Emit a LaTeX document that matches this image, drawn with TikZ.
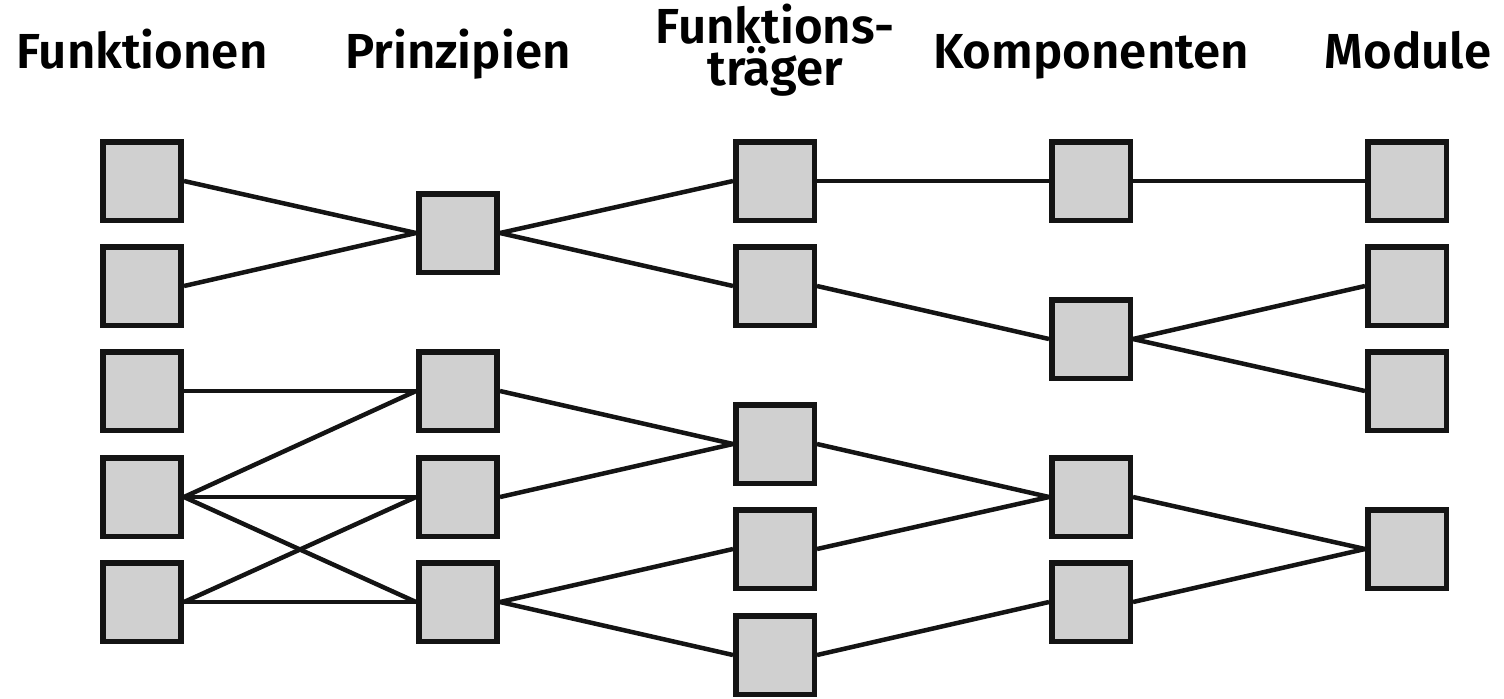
\documentclass[tikz,border=0pt]{standalone}
\usepackage{fontspec}
\setmainfont{Fira Sans}[BoldFont={Fira Sans SemiBold}]
\usepackage{tikz}
\definecolor{boxgray}{HTML}{D0D0D0}

\begin{document}
\begin{tikzpicture}[x=0.02cm,y=-0.02cm,
  blk/.style={draw=black!92,line width=0.11cm,fill=boxgray,minimum size=1.57cm,inner sep=0pt},
  head/.style={font=\fontsize{28}{21}\selectfont\bfseries,align=center,inner sep=0pt},
  link/.style={draw=black!92,line width=0.09cm}]
\useasboundingbox (0,0) rectangle (1504,698);
% ---- column headers ----
\node[head,anchor=base] (hf) at (142,68) {Funktionen};
\node[head,anchor=base] (hp) at (458,68) {Prinzipien};
\node[head,anchor=base] (ht) at (775,85) {Funktions-\\träger};
\node[head,anchor=base] (hk) at (1091,68) {Komponenten};
\node[head,anchor=base] (hm) at (1408,68) {Module};
% ---- boxes ----
\foreach \i/\y in {1/181,2/286,3/391,4/497,5/602} \node[blk] (f\i) at (142,\y) {};
\foreach \i/\y in {1/233,2/391,3/497,4/602} \node[blk] (p\i) at (458,\y) {};
\foreach \i/\y in {1/181,2/286,3/444,4/549,5/655} \node[blk] (t\i) at (775,\y) {};
\foreach \i/\y in {1/181,2/339,3/497,4/602} \node[blk] (k\i) at (1091,\y) {};
\foreach \i/\y in {1/181,2/286,3/391,4/549} \node[blk] (m\i) at (1407,\y) {};
% ---- links ----
\foreach \a/\b in {f1/p1,f2/p1,f3/p2,f4/p2,f4/p3,f4/p4,f5/p3,f5/p4,
  p1/t1,p1/t2,p2/t3,p3/t3,p4/t4,p4/t5,
  t1/k1,t2/k2,t3/k3,t4/k3,t5/k4,
  k1/m1,k2/m2,k2/m3,k3/m4,k4/m4}
  \draw[link] (\a.east) -- (\b.west);
\end{tikzpicture}
\end{document}
